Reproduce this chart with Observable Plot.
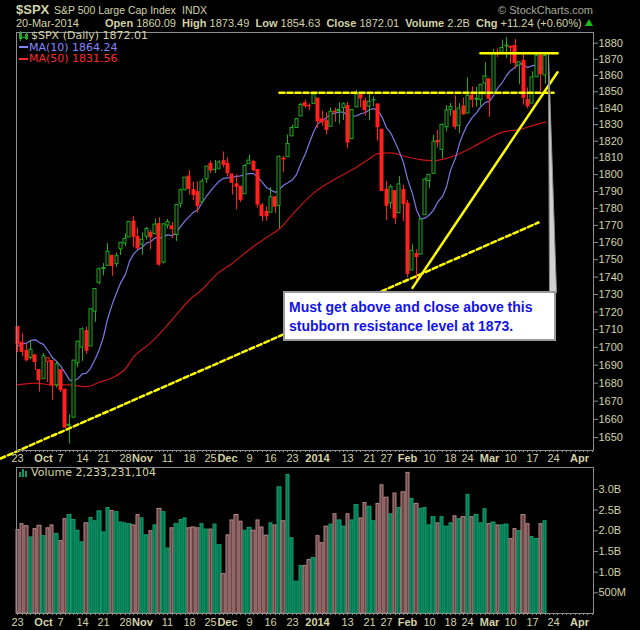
<!DOCTYPE html>
<html>
<head>
<meta charset="utf-8">
<script src="https://cdn.jsdelivr.net/npm/d3@7"></script>
<script src="https://cdn.jsdelivr.net/npm/@observablehq/plot@0.6"></script>
<style>
  html, body { margin:0; padding:0; background:#000; }
  #wrap { position:relative; width:640px; height:630px; background:#000; overflow:hidden;
          font-family:"Liberation Sans", Arial, sans-serif; color:#d2d2a6; }
  .abs { position:absolute; white-space:nowrap; line-height:1; }
  #price, #volume { position:absolute; left:0; }
  #price { top:0; }
  #volume { top:466px; }
  .lbl { font-weight:bold; }
  .leg { font-family:"DejaVu Sans", sans-serif; font-size:11px; line-height:10px; }
  #note { position:absolute; left:283px; top:291px; width:263px; height:41px; background:#fff;
          border:2px solid #9a9a9a; color:#1414e6; font:bold 14px "Liberation Sans", Arial, sans-serif;
          line-height:19px; padding:5px 2px 0 4px; white-space:nowrap; }
</style>
</head>
<body>
<div id="wrap">
  <div class="abs" style="left:16px;top:3px;font-size:13px;font-weight:bold;">$SPX</div>
  <div class="abs" style="left:54px;top:5px;font-size:10.5px;">S&amp;P 500 Large Cap Index</div>
  <div class="abs" style="left:182px;top:5px;font-size:10.5px;">INDX</div>
  <div class="abs" style="right:47px;top:5px;font-size:11px;color:#a9a99a;">© StockCharts.com</div>
  <div class="abs" style="left:16px;top:18px;font-size:11px;">20-Mar-2014</div>
  <div class="abs" id="quote" style="left:105px;top:18px;font-size:11px;"></div>
  <div class="abs" style="left:585px;top:19px;width:0;height:0;border-left:4px solid transparent;border-right:4px solid transparent;border-bottom:7px solid #18c018;"></div>

  <div id="price"></div>
  <div id="volume"></div>

  <svg class="abs" style="left:19px;top:31px" width="10" height="10">
    <rect x="0.5" y="2.5" width="2" height="5" fill="none" stroke="#1fae1f"/>
    <line x1="1.5" y1="0" x2="1.5" y2="10" stroke="#1fae1f"/>
    <rect x="6.5" y="3.5" width="2" height="4" fill="#1fae1f" stroke="#1fae1f"/>
    <line x1="7.5" y1="1" x2="7.5" y2="9" stroke="#1fae1f"/>
    <line x1="3" y1="6.5" x2="6" y2="6.5" stroke="#1fae1f"/>
  </svg>
  <div class="abs leg" id="legSpx" style="left:31px;top:31px;color:#d2d2a6;"></div>
  <div class="abs" style="left:19px;top:46px;width:9px;height:2px;background:#8585ff;"></div>
  <div class="abs leg" id="legMa10" style="left:29px;top:42.5px;color:#8585ff;"></div>
  <div class="abs" style="left:19px;top:58px;width:9px;height:2px;background:#ff2a2a;"></div>
  <div class="abs leg" id="legMa50" style="left:29px;top:54px;color:#ff2a2a;"></div>

  <svg class="abs" style="left:19px;top:468px" width="10" height="9">
    <rect x="0" y="4" width="2" height="5" fill="#0a9a6a"/>
    <rect x="3" y="1" width="2" height="8" fill="#0a9a6a"/>
    <rect x="6" y="3" width="2" height="6" fill="#0a9a6a"/>
  </svg>
  <div class="abs leg" id="legVol" style="left:31px;top:468px;color:#d2d2a6;"></div>

  <div id="note">Must get above and close above this<br>stubborn resistance level at 1873.</div>
</div>

<script>
// ---------- data (trading-day index 0 = 23-Sep-2013 ... 123 = 20-Mar-2014) ----------
const priorCloses = [1683.99,1689.13,1683.42,1687.99,1697.60,1704.76,1725.52,1722.34,1709.91];

const opens = [1711.44,1702.60,1698.02,1694.05,1695.52,1687.26,1682.41,1691.90,1692.35,1678.79,
1687.15,1676.22,1656.99,1660.88,1691.09,1699.86,1709.17,1700.49,1720.17,1736.72,
1745.20,1746.48,1752.27,1747.48,1756.01,1759.42,1762.93,1772.27,1763.24,1758.70,
1763.40,1765.67,1765.00,1770.74,1748.37,1769.96,1769.51,1764.37,1782.75,1790.66,
1798.82,1790.79,1789.59,1783.52,1797.21,1806.33,1802.87,1803.48,1808.01,1806.55,
1800.10,1794.15,1792.82,1788.36,1806.21,1807.60,1802.76,1781.71,1777.98,1777.48,
1786.47,1781.46,1809.00,1810.39,1822.92,1828.02,1834.96,1842.97,1841.47,1842.61,
1845.86,1833.21,1832.31,1828.71,1837.90,1839.00,1840.06,1841.26,1821.36,1840.52,
1847.99,1844.23,1841.05,1844.71,1842.29,1826.96,1791.03,1783.00,1790.15,1777.17,
1790.88,1782.68,1743.82,1753.38,1752.99,1776.01,1796.20,1800.45,1820.12,1814.82,
1828.46,1839.03,1838.22,1829.24,1841.07,1836.78,1847.66,1845.79,1844.90,1855.12,
1857.68,1849.23,1874.05,1874.18,1878.52,1877.86,1878.26,1866.15,1869.06,1845.07,
1842.81,1858.92,1872.25,1860.09];

const highs = [1711.44,1707.63,1701.71,1703.85,1695.52,1687.26,1696.55,1693.87,1692.35,1691.94,
1687.15,1676.79,1662.47,1692.56,1703.44,1711.03,1711.57,1721.76,1733.45,1745.31,
1747.79,1759.33,1752.27,1753.94,1759.82,1764.99,1772.09,1775.22,1768.53,1765.67,
1768.78,1767.03,1773.74,1774.54,1770.78,1773.44,1771.78,1782.00,1791.53,1798.22,
1802.33,1795.51,1795.73,1797.16,1804.84,1808.10,1808.42,1808.27,1813.55,1810.02,
1800.10,1799.80,1792.82,1806.04,1811.52,1808.52,1802.97,1782.99,1780.92,1792.22,
1786.77,1811.08,1810.88,1823.75,1829.75,1833.32,1842.84,1844.89,1842.47,1849.44,
1845.86,1838.24,1837.16,1840.10,1840.02,1843.23,1843.15,1843.45,1839.26,1850.84,
1847.99,1846.04,1849.31,1846.87,1842.29,1826.96,1795.98,1793.87,1790.15,1798.77,
1793.88,1784.83,1758.73,1755.79,1774.06,1798.03,1799.94,1823.54,1826.55,1830.25,
1841.65,1842.87,1847.50,1842.79,1846.13,1858.71,1852.91,1852.65,1854.53,1867.92,
1857.68,1876.23,1876.53,1881.94,1883.57,1877.87,1882.35,1868.38,1874.40,1852.44,
1862.30,1873.76,1874.14,1873.49];

const lows = [1697.10,1694.90,1691.88,1693.11,1687.11,1674.99,1682.07,1680.34,1670.36,1677.33,
1674.70,1655.03,1646.47,1660.88,1688.52,1692.13,1695.93,1700.49,1714.12,1735.74,
1740.67,1746.48,1740.50,1745.50,1752.45,1757.67,1762.93,1757.24,1755.72,1752.70,
1761.56,1755.76,1764.40,1746.20,1747.63,1767.85,1762.29,1760.64,1780.22,1790.66,
1788.00,1784.72,1777.23,1783.52,1794.70,1800.58,1800.77,1802.77,1803.98,1798.60,
1787.85,1779.09,1783.38,1788.36,1806.21,1801.75,1780.09,1772.28,1772.45,1777.48,
1777.05,1767.99,1801.35,1810.25,1822.92,1828.02,1834.96,1839.81,1838.77,1842.41,
1827.74,1829.13,1823.73,1828.71,1831.40,1830.38,1832.43,1815.52,1821.36,1840.52,
1840.30,1835.23,1832.38,1840.88,1820.06,1790.29,1772.88,1779.49,1770.45,1777.17,
1772.26,1739.66,1743.82,1737.92,1752.99,1776.01,1791.83,1800.41,1815.97,1809.22,
1825.59,1835.01,1826.99,1824.58,1835.60,1836.78,1840.19,1840.66,1841.13,1847.67,
1834.44,1849.23,1871.11,1874.18,1870.56,1867.04,1863.88,1854.38,1841.86,1839.57,
1842.81,1858.92,1850.35,1854.63];

const closes = [1701.84,1697.42,1692.77,1698.67,1691.75,1681.55,1695.00,1693.87,1678.66,1690.50,
1676.12,1655.45,1656.40,1692.56,1703.20,1710.14,1698.06,1721.54,1733.15,1744.50,
1744.66,1754.67,1746.38,1752.07,1759.77,1762.11,1771.95,1763.31,1756.54,1761.64,
1767.93,1762.97,1770.49,1747.15,1770.61,1771.89,1767.69,1782.00,1790.62,1798.18,
1791.53,1787.87,1781.37,1795.85,1804.76,1802.48,1802.75,1807.23,1805.81,1800.90,
1795.15,1792.81,1785.03,1805.09,1808.37,1802.62,1782.22,1775.50,1775.32,1786.54,
1781.00,1810.65,1809.60,1818.32,1827.99,1833.32,1842.02,1841.40,1841.07,1848.36,
1831.98,1831.37,1826.77,1837.88,1837.49,1838.13,1842.37,1819.20,1838.88,1848.38,
1845.89,1838.70,1843.80,1844.86,1828.46,1790.29,1781.56,1792.50,1774.20,1794.19,
1782.59,1741.89,1755.20,1751.64,1773.43,1797.02,1799.84,1819.75,1819.26,1829.83,
1838.63,1840.76,1828.75,1839.78,1836.25,1847.61,1845.12,1845.16,1854.29,1859.45,
1845.73,1873.91,1873.81,1877.03,1878.04,1877.17,1867.63,1868.20,1846.34,1841.13,
1858.83,1872.25,1860.77,1872.01];

// volume in billions of shares
const volumes = [2.02,2.16,2.11,1.84,2.04,2.12,1.87,2.06,2.13,1.92,
1.75,2.28,2.38,2.26,2.00,1.72,2.18,2.31,2.23,2.47,
1.96,2.55,2.48,2.45,2.20,2.18,2.16,2.13,2.38,2.30,
1.89,1.99,2.13,2.53,2.45,1.57,2.06,2.16,2.26,2.30,
2.06,2.08,2.06,2.16,2.03,2.03,2.15,1.65,0.95,1.89,
2.25,2.38,2.22,2.00,2.07,2.00,2.25,2.08,1.88,2.18,
2.13,3.05,2.23,3.35,1.82,0.77,1.15,1.15,1.29,1.34,
1.87,1.70,2.10,2.15,2.40,2.25,2.10,2.40,2.25,2.62,
2.30,2.67,2.58,2.23,2.65,3.10,2.80,2.40,2.90,2.55,
2.93,3.40,2.77,2.65,2.53,2.55,2.13,2.33,2.18,2.33,
2.10,2.18,2.35,2.28,2.33,2.87,2.33,2.38,2.18,2.52,
2.16,2.20,2.13,2.13,2.15,1.80,2.04,1.99,2.38,2.16,
1.85,1.80,2.16,2.23];

// 50-day moving average (trading-day index, value)
const ma50Idx = [0,4,8,12,16,19,22,25,27,31,34,37,40,43,46,50,54,58,61,64,69,74,78,82,84,87,91,94,97,100,103,108,113,117,120,123];
const ma50Val = [1679,1680,1679,1679,1678,1680.5,1683,1688,1694.5,1702.5,1710,1718.5,1727,1733,1741,1748,1756,1763,1768,1776.5,1789,1797.5,1803,1809.5,1812.5,1813,1810.5,1809,1808.3,1809.7,1812.5,1819,1825.5,1827,1829.4,1831.56];

// hand-drawn annotation lines (trading-day index, price)
const supportIdx = [-4.08, 121.5];      const supportVal = [1638.6, 1771.7];
const resistDashIdx = [61.0, 124.9];    const resistDashVal = [1849.4, 1849.4];
const resistIdx = [107.9, 125.8];       const resistVal = [1873.8, 1873.8];
const riseIdx = [92.0, 125.8];          const riseVal = [1733.8, 1862.0];
const pointerIdx = [123.85, 125.6, 124.1, 123.85]; const pointerVal = [1872.5, 1731, 1731, 1872.5];

// axis ticks
const priceTicks = [1650,1660,1670,1680,1690,1700,1710,1720,1730,1740,1750,1760,1770,1780,1790,1800,1810,1820,1830,1840,1850,1860,1870,1880];
const volTickVals = [0.5,1.0,1.5,2.0,2.5,3.0];
const volTickText = ["500M","1.0B","1.5B","2.0B","2.5B","3.0B"];
const dayTickIdx  = [0,10,15,20,25,35,40,45,54,59,64,77,82,86,96,101,105,115,120,125];
const dayTickText = ["23","7","14","21","28","11","18","25","9","16","23","13","21","27","10","18","24","10","17","24"];
const monthTickIdx  = [6,29,49,70,91,110,131];
const monthTickText = ["Oct","Nov","Dec","2014","Feb","Mar","Apr"];

// header / legend texts
const quoteLabels = ["Open","High","Low","Close","Volume","Chg"];
const quoteValues = ["1860.09","1873.49","1854.63","1872.01","2.2B","+11.24 (+0.60%)"];
const legendSpx = "$SPX (Daily) 1872.01";
const legendMa10 = "MA(10) 1864.24";
const legendMa50 = "MA(50) 1831.56";
const legendVol = "Volume 2,233,231,104";

// ---------- build ----------
document.getElementById("quote").innerHTML = quoteLabels.map((l, k) =>
  `<span class="lbl">${l}</span> ${quoteValues[k]}`).join("&nbsp;&nbsp;");
document.getElementById("legSpx").textContent = legendSpx;
document.getElementById("legMa10").textContent = legendMa10;
document.getElementById("legMa50").textContent = legendMa50;
document.getElementById("legVol").textContent = legendVol;

const GREEN = "#1fae1f", RED = "#ff2020";
const candles = closes.map((c, i) => {
  const prev = i ? closes[i - 1] : priorCloses[priorCloses.length - 1];
  const up = c >= prev;
  return {i, open: opens[i], high: highs[i], low: lows[i], close: c, vol: volumes[i],
          col: up ? GREEN : RED, hollow: c >= opens[i], up};
});
const maSrc = priorCloses.concat(closes).map((c, j) => ({i: j - priorCloses.length, c}));
const ma50 = ma50Idx.map((i, k) => ({i, v: ma50Val[k]}));
const pts = (a, b) => a.map((i, k) => ({i, p: b[k]}));
const dayMap = new Map(dayTickIdx.map((d, k) => [d, dayTickText[k]]));
const monMap = new Map(monthTickIdx.map((d, k) => [d, monthTickText[k]]));
const minorTicks = d3.range(0, 135);

const XDOM = [-0.35, 134.3];
const TAN = "#d2d2a6", GRID = "#8c8c8c";
const FONT = "'Liberation Sans', Arial, sans-serif";

const price = Plot.plot({
  width: 640, height: 466,
  marginTop: 32, marginBottom: 16, marginLeft: 16, marginRight: 47,
  style: {background: "transparent", color: TAN, fontFamily: FONT, fontSize: "11px", overflow: "visible"},
  x: {domain: XDOM, round: true},
  y: {type: "log", domain: [1642.95, 1886.67]},
  color: {type: "identity"},
  marks: [
    Plot.line(ma50, {x: "i", y: "v", stroke: "#c81414", strokeWidth: 1.2, curve: "monotone-x"}),
    Plot.line(maSrc, Plot.windowY({k: 10, anchor: "end", reduce: "mean", strict: true},
      {x: "i", y: "c", stroke: "#7a7ae6", strokeWidth: 1.2, clip: true})),
    Plot.ruleX(candles, {x: "i", y1: "low", y2: "high", stroke: "col", strokeWidth: 1}),
    Plot.rect(candles, {x1: d => d.i - 0.35, x2: d => d.i + 0.35, y1: "open", y2: "close",
      fill: d => d.hollow ? "#000" : d.col, stroke: "col", strokeWidth: 1}),
    Plot.line(pts(supportIdx, supportVal), {x: "i", y: "p", stroke: "#ffff00", strokeWidth: 2.5, strokeDasharray: "5,3"}),
    Plot.line(pts(resistDashIdx, resistDashVal), {x: "i", y: "p", stroke: "#ffff00", strokeWidth: 2.5, strokeDasharray: "5,3"}),
    Plot.line(pts(resistIdx, resistVal), {x: "i", y: "p", stroke: "#ffff00", strokeWidth: 2.5}),
    Plot.line(pts(riseIdx, riseVal), {x: "i", y: "p", stroke: "#ffff00", strokeWidth: 2.5}),
    Plot.line(pts(pointerIdx, pointerVal), {x: "i", y: "p", fill: "#d0d0d0", stroke: "#8c8c8c", strokeWidth: 1}),
    Plot.frame({stroke: GRID}),
    Plot.axisY({anchor: "right", ticks: priceTicks, tickSize: 4, tickPadding: 1, label: null,
      tickFormat: d3.format("d"), stroke: GRID, fill: TAN, fontSize: 11}),
    Plot.axisX({anchor: "bottom", ticks: minorTicks, tickSize: 2, tickFormat: () => "", label: null, stroke: GRID}),
    Plot.axisX({anchor: "bottom", ticks: dayTickIdx, tickSize: 0, tickPadding: 4, label: null,
      tickFormat: d => dayMap.get(d), fill: TAN, fontSize: 11}),
    Plot.axisX({anchor: "bottom", ticks: monthTickIdx, tickSize: 0, tickPadding: 4, label: null,
      tickFormat: d => monMap.get(d), fill: TAN, fontSize: 11, fontWeight: "bold"})
  ]
});
document.getElementById("price").appendChild(price);

const volume = Plot.plot({
  width: 640, height: 164,
  marginTop: 1, marginBottom: 17, marginLeft: 16, marginRight: 47,
  style: {background: "transparent", color: TAN, fontFamily: FONT, fontSize: "11px", overflow: "visible"},
  x: {domain: XDOM, round: true},
  y: {domain: [0, 3.53]},
  color: {type: "identity"},
  marks: [
    Plot.rect(candles, {x1: d => d.i - 0.4, x2: d => d.i + 0.4, y1: 0, y2: "vol",
      fill: d => d.up ? "#007a52" : "#6c4646", stroke: d => d.up ? "#16a070" : "#b88888", strokeWidth: 1}),
    Plot.frame({stroke: GRID}),
    Plot.axisY({anchor: "right", ticks: volTickVals, tickSize: 4, tickPadding: 1, label: null,
      tickFormat: d => volTickText[volTickVals.indexOf(d)], stroke: GRID, fill: TAN, fontSize: 11}),
    Plot.axisX({anchor: "bottom", ticks: minorTicks, tickSize: 2, tickFormat: () => "", label: null, stroke: GRID}),
    Plot.axisX({anchor: "bottom", ticks: dayTickIdx, tickSize: 0, tickPadding: 5, label: null,
      tickFormat: d => dayMap.get(d), fill: TAN, fontSize: 11}),
    Plot.axisX({anchor: "bottom", ticks: monthTickIdx, tickSize: 0, tickPadding: 5, label: null,
      tickFormat: d => monMap.get(d), fill: TAN, fontSize: 11, fontWeight: "bold"})
  ]
});
document.getElementById("volume").appendChild(volume);
</script>
</body>
</html>
